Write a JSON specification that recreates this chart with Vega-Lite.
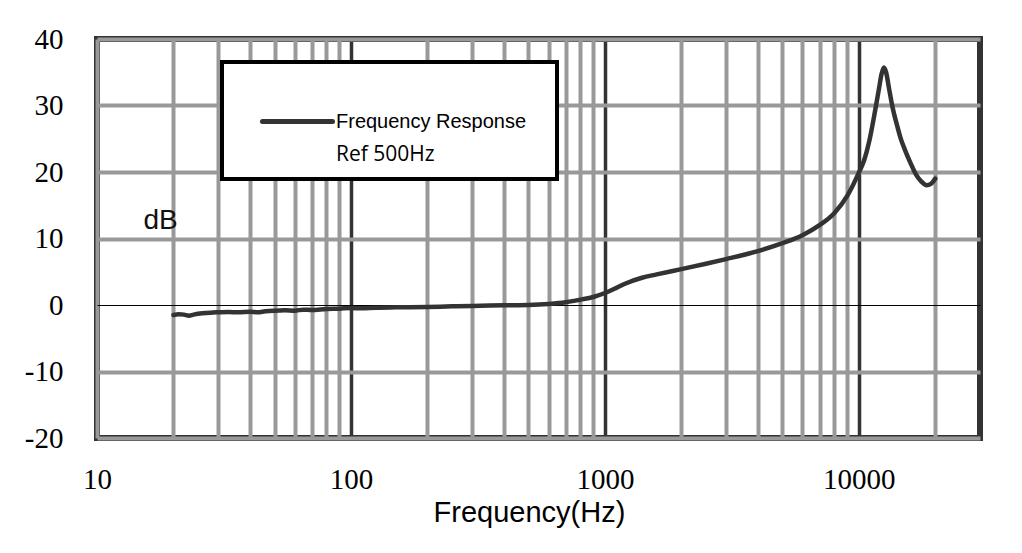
{
  "$schema": "https://vega.github.io/schema/vega-lite/v6.json",
  "description": "Frequency response, dB against frequency on a log axis.",
  "width": 883,
  "height": 399,
  "autosize": {"type": "none"},
  "padding": {"left": 97, "top": 39, "right": 42, "bottom": 115},
  "background": "white",
  "config": {
    "view": {"stroke": "#333333", "strokeWidth": 6},
    "axis": {"gridOpacity": 1, "domain": false}
  },
  "data": {
    "values": [
      {"freq_hz": 20, "db": -1.5},
      {"freq_hz": 21, "db": -1.4},
      {"freq_hz": 22, "db": -1.45},
      {"freq_hz": 23, "db": -1.6},
      {"freq_hz": 24, "db": -1.45},
      {"freq_hz": 26, "db": -1.25},
      {"freq_hz": 28, "db": -1.15},
      {"freq_hz": 30, "db": -1.1},
      {"freq_hz": 33, "db": -1.05},
      {"freq_hz": 36, "db": -1.1},
      {"freq_hz": 40, "db": -1.0},
      {"freq_hz": 43, "db": -1.1},
      {"freq_hz": 46, "db": -0.95},
      {"freq_hz": 50, "db": -0.85},
      {"freq_hz": 55, "db": -0.8},
      {"freq_hz": 60, "db": -0.85},
      {"freq_hz": 65, "db": -0.7},
      {"freq_hz": 70, "db": -0.75},
      {"freq_hz": 80, "db": -0.6},
      {"freq_hz": 90, "db": -0.55},
      {"freq_hz": 100, "db": -0.45},
      {"freq_hz": 110, "db": -0.5},
      {"freq_hz": 125, "db": -0.4},
      {"freq_hz": 150, "db": -0.35},
      {"freq_hz": 200, "db": -0.3},
      {"freq_hz": 250, "db": -0.2},
      {"freq_hz": 300, "db": -0.15},
      {"freq_hz": 400, "db": -0.05},
      {"freq_hz": 500, "db": 0},
      {"freq_hz": 600, "db": 0.15},
      {"freq_hz": 700, "db": 0.4},
      {"freq_hz": 800, "db": 0.8},
      {"freq_hz": 900, "db": 1.2},
      {"freq_hz": 1000, "db": 1.8},
      {"freq_hz": 1100, "db": 2.5},
      {"freq_hz": 1200, "db": 3.2},
      {"freq_hz": 1400, "db": 4.1},
      {"freq_hz": 1600, "db": 4.6},
      {"freq_hz": 2000, "db": 5.4},
      {"freq_hz": 2500, "db": 6.2},
      {"freq_hz": 3000, "db": 6.9},
      {"freq_hz": 4000, "db": 8.1},
      {"freq_hz": 5000, "db": 9.3},
      {"freq_hz": 6000, "db": 10.5},
      {"freq_hz": 7000, "db": 12.0},
      {"freq_hz": 8000, "db": 13.8},
      {"freq_hz": 9000, "db": 16.4},
      {"freq_hz": 10000, "db": 19.9},
      {"freq_hz": 10500, "db": 21.8},
      {"freq_hz": 11000, "db": 24.7},
      {"freq_hz": 11500, "db": 28.5},
      {"freq_hz": 12000, "db": 32.5},
      {"freq_hz": 12300, "db": 34.8},
      {"freq_hz": 12550, "db": 35.7},
      {"freq_hz": 12800, "db": 35.0},
      {"freq_hz": 13200, "db": 32.2},
      {"freq_hz": 13600, "db": 29.6},
      {"freq_hz": 14100, "db": 27.2},
      {"freq_hz": 14600, "db": 25.1},
      {"freq_hz": 15200, "db": 23.3},
      {"freq_hz": 16000, "db": 21.3},
      {"freq_hz": 16800, "db": 19.6},
      {"freq_hz": 17600, "db": 18.6},
      {"freq_hz": 18500, "db": 18.0},
      {"freq_hz": 19200, "db": 18.2},
      {"freq_hz": 20000, "db": 19.0}
    ]
  },
  "mark": {"type": "line", "strokeWidth": 4.5, "interpolate": "monotone", "strokeCap": "round"},
  "encoding": {
    "x": {
      "field": "freq_hz",
      "type": "quantitative",
      "scale": {"type": "log", "domain": [10, 30000], "nice": false},
      "axis": {
        "values": [10, 20, 30, 40, 50, 60, 70, 80, 90, 100, 200, 300, 400, 500, 600, 700, 800, 900, 1000, 2000, 3000, 4000, 5000, 6000, 7000, 8000, 9000, 10000, 20000],
        "format": "d",
        "labelExpr": "datum.value == 10 || datum.value == 100 || datum.value == 1000 || datum.value == 10000 ? datum.label : ''",
        "labelFont": "Liberation Serif",
        "labelFontSize": 29,
        "labelColor": "#000000",
        "labelBaseline": "alphabetic",
        "labelPadding": 50,
        "labelFlush": false,
        "labelOverlap": false,
        "labelBound": false,
        "ticks": false,
        "grid": true,
        "gridColor": {"condition": {"test": "datum.value == 100 || datum.value == 1000 || datum.value == 10000", "value": "#333333"}, "value": "#999999"},
        "gridWidth": {"condition": {"test": "datum.value == 100 || datum.value == 1000 || datum.value == 10000", "value": 3.5}, "value": 4},
        "title": "Frequency(Hz)",
        "titleFont": "Liberation Sans",
        "titleFontSize": 29,
        "titleFontWeight": "normal",
        "titleColor": "#000000",
        "titleX": 432,
        "titleY": 83,
        "titleAlign": "center",
        "titleBaseline": "alphabetic"
      }
    },
    "y": {
      "field": "db",
      "type": "quantitative",
      "scale": {"domain": [-20, 40], "nice": false, "zero": false},
      "axis": {
        "values": [-20, -10, 0, 10, 20, 30, 40],
        "labelExpr": "datum.value < 0 ? '-' + abs(datum.value) : '' + datum.value",
        "labelFont": "Liberation Serif",
        "labelFontSize": 29,
        "labelColor": "#000000",
        "labelPadding": 34,
        "labelBaseline": "middle",
        "labelFlush": false,
        "labelOverlap": false,
        "labelBound": false,
        "ticks": false,
        "grid": true,
        "gridColor": {"condition": {"test": "datum.value == 0", "value": "#000000"}, "value": "#999999"},
        "gridWidth": {"condition": {"test": "datum.value == 0", "value": 1}, "value": 4},
        "title": "dB",
        "titleAngle": 0,
        "titleX": 63,
        "titleY": 181,
        "titleAlign": "center",
        "titleBaseline": "middle",
        "titleFont": "Liberation Sans",
        "titleFontSize": 28,
        "titleFontWeight": "normal",
        "titleColor": "#111111"
      }
    },
    "color": {
      "datum": "Frequency Response",
      "type": "nominal",
      "scale": {"domain": ["Frequency Response", "Ref 500Hz"], "range": ["#333333", "rgba(0,0,0,0)"]},
      "legend": {
        "orient": "none",
        "legendX": 125,
        "legendY": 23,
        "title": " ",
        "titleFontSize": 10,
        "titlePadding": 25,
        "padding": 8,
        "fillColor": "white",
        "strokeColor": "#000000",
        "symbolType": "stroke",
        "symbolSize": 4900,
        "symbolStrokeWidth": 5,
        "symbolOffset": 30,
        "labelOffset": 1,
        "clipHeight": 33,
        "rowPadding": 0,
        "labelFont": "Liberation Sans",
        "labelFontSize": 20,
        "labelColor": "#000000",
        "labelLimit": 500,
        "labelExpr": "datum.value == 'Ref 500Hz' ? datum.label : datum.label + '\u00a0\u00a0\u00a0\u00a0\u200b'",
        "encode": {
          "legend": {"update": {"strokeWidth": {"value": 4}}},
          "symbols": {"update": {"strokeCap": {"value": "round"}}},
          "labels": {
            "update": {
              "font": {"signal": "datum.value == 'Ref 500Hz' ? 'Open Sans' : 'Liberation Sans'"},
              "fontSize": {"signal": "datum.value == 'Ref 500Hz' ? 21 : 20"}
            }
          }
        }
      }
    }
  }
}
